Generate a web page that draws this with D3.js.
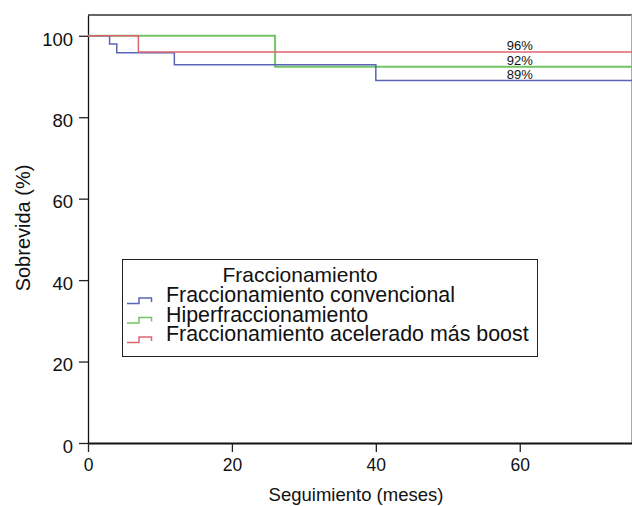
<!DOCTYPE html>
<html>
<head>
<meta charset="utf-8">
<script src="https://cdn.jsdelivr.net/npm/d3@7"></script>
<style>
  body { margin: 0; background: #fff; }
  svg { display: block; font-family: "Liberation Sans", Arial, sans-serif; }
</style>
</head>
<body>
<svg id="chart" width="632" height="506"></svg>
<script>
// Kaplan-Meier steps
const convTimes = [0, 3, 4, 12, 40, 75.6];
const convSurv = [100, 98, 95.8, 92.9, 89, 89];
const hiperTimes = [0, 26, 75.6];
const hiperSurv = [100, 92.4, 92.4];
const acelTimes = [0, 7, 75.6];
const acelSurv = [100, 96, 96];

const seriesNames = ['Fraccionamiento convencional', 'Hiperfraccionamiento', 'Fraccionamiento acelerado más boost'];
const seriesColors = ['#5a64b8', '#72c464', '#e0646e'];
const endLabels = ['89%', '92%', '96%'];
const xTicks = [0, 20, 40, 60];
const yTicks = [0, 20, 40, 60, 80, 100];

const svg = d3.select('#chart');
const plotLeft = 88, plotRight = 632, plotTop = 15, plotBottom = 443;

const x = d3.scaleLinear().domain([0, 75.6]).range([plotLeft, plotRight]);
const y = d3.scaleLinear().domain([0, 105.1]).range([plotBottom, plotTop]);

// frame: top and right in grey
svg.append('line')
  .attr('x1', plotLeft).attr('x2', plotRight).attr('y1', plotTop).attr('y2', plotTop)
  .attr('stroke', '#666').attr('stroke-width', 2);
svg.append('line')
  .attr('x1', plotRight - 0.5).attr('x2', plotRight - 0.5).attr('y1', plotTop).attr('y2', plotBottom)
  .attr('stroke', '#aaa').attr('stroke-width', 1);

const xAxis = svg.append('g')
  .attr('transform', `translate(0,${plotBottom})`)
  .call(d3.axisBottom(x).tickValues(xTicks).tickSize(9).tickPadding(7).tickSizeOuter(0));
xAxis.select('.domain').attr('stroke', '#111').attr('stroke-width', 2);
xAxis.selectAll('.tick line').attr('stroke', '#222').attr('stroke-width', 1.3);
xAxis.selectAll('text').attr('font-size', 17.5).attr('fill', '#111').attr('font-family', null);

const yAxis = svg.append('g')
  .attr('transform', `translate(${plotLeft},0)`)
  .call(d3.axisLeft(y).tickValues(yTicks).tickSize(9).tickPadding(6).tickSizeOuter(0));
yAxis.select('.domain').attr('stroke', '#111').attr('stroke-width', 1.3);
yAxis.selectAll('.tick line').attr('stroke', '#222').attr('stroke-width', 1.3);
yAxis.selectAll('text').attr('font-size', 18.5).attr('fill', '#111').attr('font-family', null)
  .attr('dy', '0.5em');

svg.append('text')
  .attr('x', (plotLeft + plotRight) / 2 - 4).attr('y', 501)
  .attr('text-anchor', 'middle').attr('font-size', 18.5).attr('fill', '#111')
  .text('Seguimiento (meses)');

svg.append('text')
  .attr('transform', `translate(30,228) rotate(-90)`)
  .attr('text-anchor', 'middle').attr('font-size', 20).attr('fill', '#111')
  .text('Sobrevida (%)');

// survival curves
const series = [
  {times: convTimes, surv: convSurv},
  {times: hiperTimes, surv: hiperSurv},
  {times: acelTimes, surv: acelSurv}
];
const line = d3.line()
  .x(d => x(d[0]))
  .y(d => y(d[1]))
  .curve(d3.curveStepAfter);

// draw green first, then blue, red on top
[1, 0, 2].forEach(i => {
  const s = series[i];
  svg.append('path')
    .datum(s.times.map((t, j) => [t, s.surv[j]]))
    .attr('fill', 'none')
    .attr('stroke', seriesColors[i])
    .attr('stroke-width', i === 1 ? 2 : 1.5)
    .attr('d', line);
});

series.forEach((s, i) => {
  const last = s.surv[s.surv.length - 1];
  svg.append('text')
    .attr('x', x(60)).attr('y', y(last) - 2)
    .attr('text-anchor', 'middle').attr('font-size', 13).attr('fill', '#111')
    .text(endLabels[i]);
});

// legend
const lg = svg.append('g');
lg.append('rect')
  .attr('x', 122.5).attr('y', 259.5).attr('width', 415).attr('height', 97)
  .attr('fill', '#fff').attr('stroke', '#222').attr('stroke-width', 1);
lg.append('text')
  .attr('x', 300).attr('y', 282)
  .attr('text-anchor', 'middle').attr('font-size', 21).attr('fill', '#111')
  .text('Fraccionamiento');

const rowBase = [302, 321.5, 341];
seriesNames.forEach((name, i) => {
  const b = rowBase[i];
  lg.append('path')
    .attr('d', `M127,${b + 1.5}H139V${b - 4}H151.5V${b}`)
    .attr('fill', 'none').attr('stroke', seriesColors[i]).attr('stroke-width', 1.5);
  lg.append('text')
    .attr('x', 166).attr('y', b)
    .attr('font-size', 21.4).attr('fill', '#111')
    .text(name);
});
</script>
</body>
</html>
